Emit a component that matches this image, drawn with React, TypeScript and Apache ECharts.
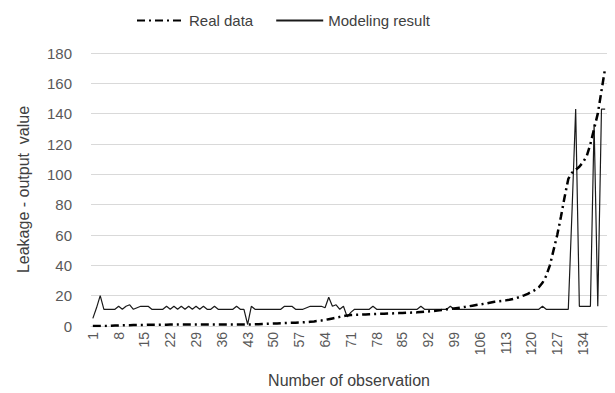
import React, { useEffect, useRef } from "react";
import * as echarts from "echarts";

const categories: string[] = Array.from({ length: 140 }, (_, i) => String(i + 1));

const realData: number[] = [
  0, 0, 0, 0, 0, 0.2, 0.3, 0.3, 0.4, 0.5,
  0.5, 0.6, 0.6, 0.7, 0.7, 0.8, 0.8, 0.8, 0.9, 0.9,
  0.9, 1, 1, 1, 1, 1, 1, 1, 1, 1,
  1, 1, 1, 1, 1, 1, 1, 1, 1, 1,
  1, 1, 1, 1, 1.1, 1.2, 1.3, 1.4, 1.5, 1.6,
  1.7, 1.8, 1.9, 2, 2.1, 2.2, 2.3, 2.4, 2.6, 2.8,
  3, 3.3, 3.6, 4, 4.5, 5, 5.5, 6, 6.5, 7,
  7.2, 7.3, 7.4, 7.5, 7.6, 7.7, 7.8, 7.9, 8, 8.1,
  8.2, 8.3, 8.4, 8.5, 8.6, 8.7, 8.8, 8.9, 9, 9.2,
  9.4, 9.6, 9.8, 10, 10.3, 10.6, 11, 11.3, 11.6, 11.9,
  12.2, 12.6, 13, 13.4, 13.8, 14.2, 14.6, 15, 15.5, 16,
  16.3, 16.6, 16.9, 17.3, 17.8, 18.5, 19.3, 20.2, 21.2, 22.5,
  23.8, 25.5, 28.5, 33, 40, 50, 60, 72, 85, 97,
  101, 103, 105, 108, 112, 120, 130, 140, 155, 170,
];

const modelData: number[] = [
  5, 12, 20, 11, 11, 11, 11, 13, 11, 13,
  14, 11, 12, 13, 13, 13, 11, 11, 11, 11,
  13, 11, 13, 11, 13, 11, 13, 11, 13, 11,
  13, 11, 11, 13, 11, 11, 11, 11, 11, 13,
  11, 11, 1, 13, 11, 11, 11, 11, 11, 11,
  11, 11, 13, 13, 13, 11, 11, 11, 12, 13,
  13, 13, 13, 12, 19, 13, 14, 11, 13, 6,
  9, 11, 11, 11, 11, 11, 13, 11, 11, 11,
  11, 11, 11, 11, 11, 11, 11, 11, 11, 13,
  11, 11, 11, 11, 11, 11, 11, 13, 11, 11,
  11, 11, 11, 11, 11, 11, 11, 11, 11, 11,
  11, 11, 11, 11, 11, 11, 11, 11, 11, 11,
  11, 11, 13, 11, 11, 11, 11, 11, 11, 11,
  75, 143, 13, 13, 13, 13, 133, 13, 143, 143,
];

const seriesNames: string[] = ["Real data", "Modeling result"];
const yTicks = { min: 0, max: 180, interval: 20 };

const FONT = "'Liberation Sans', 'DejaVu Sans', sans-serif";

export default function App() {
  const ref = useRef<HTMLDivElement>(null);
  useEffect(() => {
    if (!ref.current) return;
    const chart = echarts.init(ref.current, null, { renderer: "svg" });
    chart.setOption({
      animation: false,
      backgroundColor: "#ffffff",
      textStyle: { fontFamily: FONT },
      legend: {
        top: 8,
        left: 131,
        itemWidth: 47,
        itemHeight: 10,
        itemGap: 22,
        itemStyle: { opacity: 0 },
        textStyle: { fontSize: 15, color: "#404040", fontFamily: FONT },
        data: seriesNames,
      },
      grid: { left: 91, right: 8, top: 53, bottom: 63 },
      xAxis: {
        type: "category",
        data: categories,
        boundaryGap: true,
        name: "Number of observation",
        nameLocation: "middle",
        nameGap: 46,
        nameTextStyle: { fontSize: 16, color: "#404040", fontFamily: FONT },
        axisLine: { lineStyle: { color: "#d9d9d9", width: 1 } },
        axisTick: { show: false },
        axisLabel: {
          interval: 6,
          rotate: 90,
          fontSize: 14,
          color: "#595959",
          margin: 6,
          fontFamily: FONT,
        },
        splitLine: { show: false },
      },
      yAxis: {
        type: "value",
        min: yTicks.min,
        max: yTicks.max,
        interval: yTicks.interval,
        name: "Leakage - output  value",
        nameLocation: "middle",
        nameGap: 60,
        nameTextStyle: { fontSize: 16, color: "#404040", fontFamily: FONT },
        axisLine: { show: false },
        axisTick: { show: false },
        axisLabel: { fontSize: 15, color: "#595959", margin: 19, fontFamily: FONT },
        splitLine: { lineStyle: { color: "#d9d9d9", width: 1 } },
      },
      series: [
        {
          name: seriesNames[0],
          type: "line",
          data: realData,
          symbol: "none",
          lineStyle: { color: "#000000", width: 2.5, type: [8, 4, 2, 4] },
          itemStyle: { color: "#000000" },
          z: 3,
        },
        {
          name: seriesNames[1],
          type: "line",
          data: modelData,
          symbol: "none",
          lineStyle: { color: "#1a1a1a", width: 1.2, type: "solid" },
          itemStyle: { color: "#1a1a1a" },
          z: 2,
        },
      ],
    });
    return () => chart.dispose();
  }, []);
  return (
    <div
      ref={ref}
      style={{ position: "absolute", left: 0, top: 0, width: 615, height: 393 }}
    />
  );
}
